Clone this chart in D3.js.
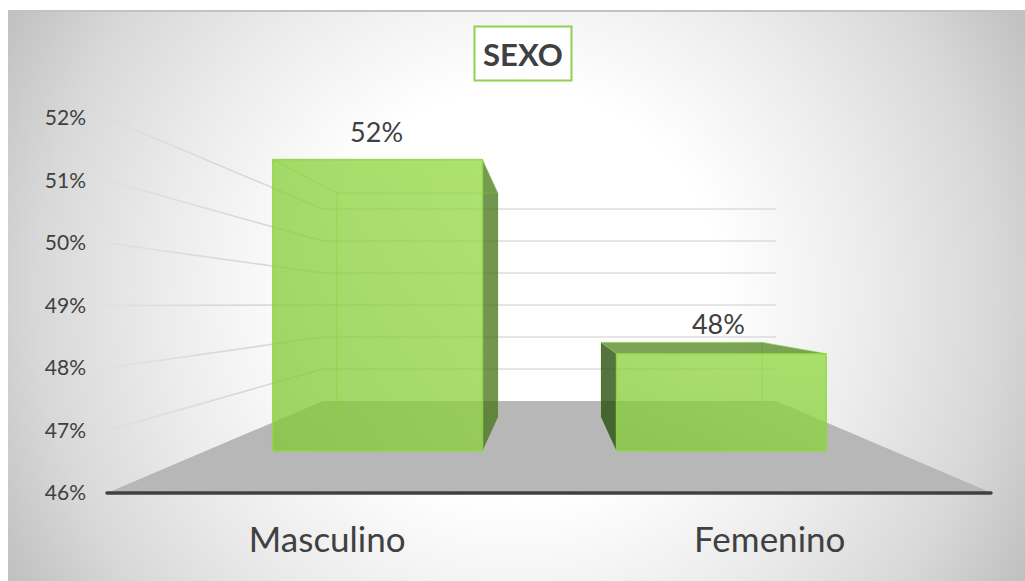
<!DOCTYPE html>
<html><head><meta charset="utf-8">
<script src="https://cdn.jsdelivr.net/npm/d3@7/dist/d3.min.js"></script>
<style>html,body{margin:0;padding:0;background:#fff}svg{display:block}text{font-family:Lato,"Open Sans",sans-serif;fill:#404040}</style>
</head><body><svg id="c" width="1025" height="581"></svg>
<script>
const categories = ["Masculino", "Femenino"];
const values = [52, 48];
const valueLabels = ["52%", "48%"];
const axisTicks = [46, 47, 48, 49, 50, 51, 52];
const titleText = "SEXO";

const svg = d3.select("#c");
const defs = svg.append("defs");
const bg = defs.append("radialGradient").attr("id","bg").attr("gradientUnits","userSpaceOnUse")
  .attr("cx",516).attr("cy",295).attr("r",585);
[["35%","#ffffff"],["60%","#ececec"],["82%","#d8d8d8"],["100%","#bfbfbf"]].forEach(s=>
  bg.append("stop").attr("offset",s[0]).attr("stop-color",s[1]));
const fade = defs.append("linearGradient").attr("id","fade").attr("gradientUnits","userSpaceOnUse")
  .attr("x1",107).attr("x2",323).attr("y1",0).attr("y2",0);
fade.append("stop").attr("offset","0%").attr("stop-color","#d9d9d9").attr("stop-opacity",0.45);
fade.append("stop").attr("offset","50%").attr("stop-color","#d9d9d9").attr("stop-opacity",1);
const frontGrad = defs.append("linearGradient").attr("id","front").attr("x1",0).attr("y1",1).attr("x2",1).attr("y2",0);
frontGrad.append("stop").attr("offset","0%").attr("stop-color","rgb(130,200,55)").attr("stop-opacity",0.75);
frontGrad.append("stop").attr("offset","100%").attr("stop-color","rgb(150,218,72)").attr("stop-opacity",0.75);

svg.append("rect").attr("x",8).attr("y",11).attr("width",1017).attr("height",570).attr("fill","url(#bg)");
svg.append("line").attr("x1",8).attr("x2",1025).attr("y1",11).attr("y2",11).attr("stroke","#c2c2c2").attr("stroke-width",2);

// Projection: two value/category scales, front plane and back wall, blended by depth
const yFront = d3.scaleLinear().domain([46,52]).range([493,118]);
const yBack  = d3.scaleLinear().domain([46,52]).range([401,209]);
const band = r => d3.scaleBand().domain(categories).range(r).paddingInner(0.39).paddingOuter(0.195);
const xFront = band([107,992]);
const xBack  = band([323,776]);
const barDepth = [0.457, 0.826];
const py = (v,t) => d3.interpolateNumber(yFront(v), yBack(v))(t);
const px = (c,e,t) => d3.interpolateNumber(xFront(c)+e*xFront.bandwidth(), xBack(c)+e*xBack.bandwidth())(t);

// gridlines
const gl = svg.append("g");
axisTicks.slice(1).forEach(v=>{
  gl.append("line").attr("x1",107).attr("y1",yFront(v)+0.01).attr("x2",323).attr("y2",yBack(v))
    .attr("stroke","url(#fade)").attr("stroke-width",1.6);
  gl.append("line").attr("x1",323).attr("y1",yBack(v)).attr("x2",776).attr("y2",yBack(v))
    .attr("stroke","#dcdcdc").attr("stroke-width",1.6);
});
// floor
const floorPts = [[xFront.range()[0],yFront(46)],[xFront.range()[1],yFront(46)],[xBack.range()[1],yBack(46)],[xBack.range()[0],yBack(46)]];
svg.append("polygon").attr("points",floorPts.join(" ")).attr("fill","#b7b7b7");

// bars
const [t0,t1] = barDepth;
const poly = (g,pts,fill,stroke,sw) => g.append("polygon").attr("points",pts.join(" ")).attr("fill",fill)
  .attr("stroke",stroke||"none").attr("stroke-width",sw||0).attr("stroke-linejoin","round");
const EDGE = "rgba(140,214,70,0.55)";
const faint = "rgba(130,205,60,0.08)";
const darkSide = ["rgba(70,115,25,0.75)","rgba(38,78,10,0.78)"];
const topFace = ["rgba(130,205,60,0.10)","rgba(84,135,35,0.75)"];
const barsG = svg.append("g");
categories.forEach((c,i)=>{
  const v = values[i], g = barsG.append("g");
  const P = (e,val,t)=>[px(c,e,t),py(val,t)];
  const fbl=P(0,46,t0), fbr=P(1,46,t0), ftl=P(0,v,t0), ftr=P(1,v,t0);
  const bbl=P(0,46,t1), bbr=P(1,46,t1), btl=P(0,v,t1), btr=P(1,v,t1);
  poly(g,[btl,btr,bbr,bbl],faint,"rgba(140,214,70,0.25)",1.2);
  poly(g,[fbl,fbr,bbr,bbl],faint);
  if(i===0){
    poly(g,[ftl,btl,bbl,fbl],"rgba(130,205,60,0.10)",EDGE,0.8);
    poly(g,[ftr,btr,bbr,fbr],darkSide[0]);
    poly(g,[ftl,ftr,btr,btl],topFace[0],EDGE,0.8);
  } else {
    poly(g,[ftl,btl,bbl,fbl],darkSide[1]);
    poly(g,[ftr,btr,bbr,fbr],"rgba(130,205,60,0.10)",EDGE,0.8);
    poly(g,[ftl,ftr,btr,btl],topFace[1],EDGE,0.8);
  }
  poly(g,[ftl,ftr,fbr,fbl],"url(#front)","rgba(140,216,66,0.75)",1.6);
});

// baseline
svg.append("line").attr("x1",107).attr("x2",991).attr("y1",yFront(46)).attr("y2",yFront(46))
  .attr("stroke","#404040").attr("stroke-width",3.4).attr("stroke-linecap","round");

// axes
const yAxis = svg.append("g").attr("transform","translate(86,0)")
  .call(d3.axisLeft(yFront).tickValues(axisTicks).tickFormat(d=>d+"%").tickSize(0).tickPadding(0));
yAxis.select(".domain").remove();
yAxis.selectAll("text").style("font-size","21px").style("font-family","Lato").attr("fill","#404040");
const xAxis = svg.append("g").attr("transform","translate(-1,527)")
  .call(d3.axisBottom(xFront).tickSize(0).tickPadding(0));
xAxis.select(".domain").remove();
xAxis.selectAll("text").style("font-size","35px").style("font-family","Lato").attr("fill","#404040");

// value labels
const labelAnchor = [py(values[0],t0)-18, py(values[1],t1)-8];
svg.append("g").selectAll("text").data(valueLabels).join("text")
  .attr("x",(d,i)=>px(categories[i],0.5,t0)-(i?3:1)).attr("y",(d,i)=>labelAnchor[i])
  .attr("text-anchor","middle").style("font-size","27px").text(d=>d);

// title
svg.append("rect").attr("x",474.5).attr("y",26.5).attr("width",97).attr("height",54)
  .attr("fill","#fff").attr("stroke","#92d050").attr("stroke-width",2);
svg.append("text").attr("x",523).attr("y",66).attr("text-anchor","middle")
  .style("font-size","31px").style("font-weight","700").text(titleText);
</script></body></html>
